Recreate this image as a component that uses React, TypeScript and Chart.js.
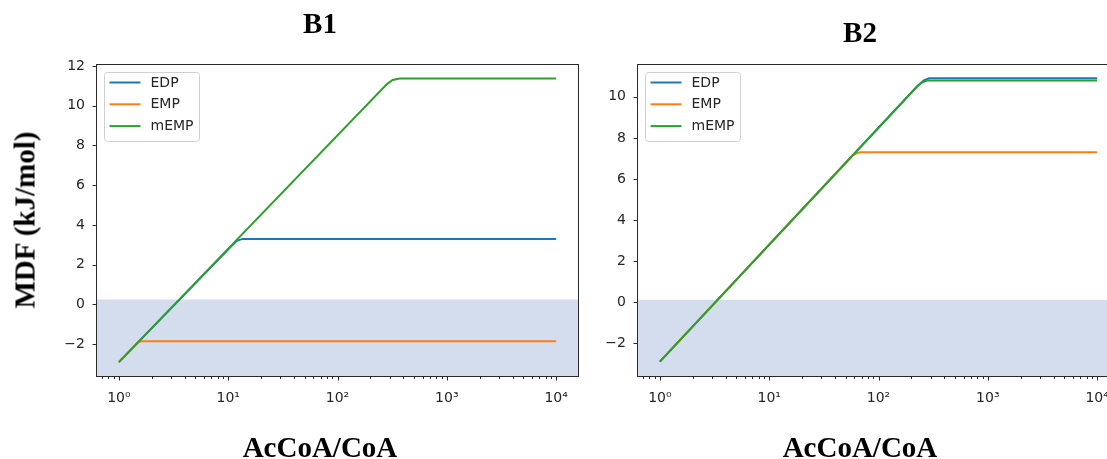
import React, { useEffect, useRef } from 'react';
import { Chart, registerables } from 'chart.js';

Chart.register(...registerables);

// ---------- shared axis data ----------
const xTickValues = [1, 10, 100, 1000, 10000];
const xTickLabels = ['10⁰', '10¹', '10²', '10³', '10⁴'];
const xMin = Math.pow(10, -0.2);
const xMax = Math.pow(10, 4.2);

const seriesNames = ['EDP', 'EMP', 'mEMP'];
const seriesColors = ['#1f77b4', '#ff7f0e', '#2ca02c'];

// ---------- panel B1 ----------
const b1EdpX = [1, 11, 12, 13.5, 10000];
const b1EdpY = [-2.9, 3.0, 3.2, 3.3, 3.3];
const b1EmpX = [1, 1.5, 1.6, 10000];
const b1EmpY = [-2.9, -1.9, -1.85, -1.85];
const b1MempX = [1, 285, 320, 370, 10000];
const b1MempY = [-2.9, 11.1, 11.3, 11.37, 11.37];
const b1YTicks = [-2, 0, 2, 4, 6, 8, 10, 12];
const b1YMin = -3.6;
const b1YMax = 12.05;
const b1ShadeTop = 0.25;

// ---------- panel B2 ----------
const b2EdpX = [1, 230, 260, 290, 10000];
const b2EdpY = [-2.9, 10.55, 10.8, 10.9, 10.9];
const b2EmpX = [1, 58, 63, 68, 10000];
const b2EmpY = [-2.9, 7.15, 7.25, 7.3, 7.3];
const b2MempX = [1, 225, 250, 280, 10000];
const b2MempY = [-2.9, 10.5, 10.7, 10.8, 10.8];
const b2YTicks = [-2, 0, 2, 4, 6, 8, 10];
const b2YMin = -3.6;
const b2YMax = 11.55;
const b2ShadeTop = 0.12;

const TICK_FONT = { family: '"DejaVu Sans", sans-serif', size: 14 };
const TICK_COLOR = '#262626';
const SPINE_COLOR = '#2a2a2a';

const fmtY = (v: number) => (v < 0 ? '\u2212' + Math.abs(v) : String(v));

const framePlugin = {
  id: 'frameTicks',
  afterDatasetsDraw(chart: any) {
    const { ctx, chartArea: a, scales } = chart;
    const L = Math.round(a.left);
    const T = Math.round(a.top);
    const R = Math.round(a.right);
    const B = Math.round(a.bottom);
    ctx.save();
    ctx.strokeStyle = SPINE_COLOR;
    ctx.lineWidth = 1;
    // axes frame
    ctx.strokeRect(L - 0.5, T - 0.5, R - L + 1, B - T + 1);
    // x major / minor ticks
    const xs = scales.x;
    ctx.beginPath();
    for (let k = -1; k <= 4; k++) {
      for (let m = 1; m <= 9; m++) {
        const v = m * Math.pow(10, k);
        if (v < xs.min || v > xs.max) continue;
        const px = Math.round(xs.getPixelForValue(v)) + 0.5;
        const len = m === 1 ? 4 : 2.5;
        ctx.moveTo(px, B + 0.5);
        ctx.lineTo(px, B + 0.5 + len);
      }
    }
    // y major ticks
    const ys = scales.y;
    ys.ticks.forEach((t: any) => {
      const py = Math.round(ys.getPixelForValue(t.value)) + 0.5;
      ctx.moveTo(L - 0.5, py);
      ctx.lineTo(L - 0.5 - 4, py);
    });
    ctx.stroke();

    // legend (upper left, inside axes)
    const x0 = L + 7.5;
    const y0 = T + 7.5;
    const w = 95;
    const h = 69;
    const r = 3;
    ctx.beginPath();
    ctx.moveTo(x0 + r, y0);
    ctx.lineTo(x0 + w - r, y0);
    ctx.arcTo(x0 + w, y0, x0 + w, y0 + r, r);
    ctx.lineTo(x0 + w, y0 + h - r);
    ctx.arcTo(x0 + w, y0 + h, x0 + w - r, y0 + h, r);
    ctx.lineTo(x0 + r, y0 + h);
    ctx.arcTo(x0, y0 + h, x0, y0 + h - r, r);
    ctx.lineTo(x0, y0 + r);
    ctx.arcTo(x0, y0, x0 + r, y0, r);
    ctx.closePath();
    ctx.fillStyle = 'rgba(255,255,255,0.85)';
    ctx.fill();
    ctx.strokeStyle = '#d0d0d0';
    ctx.stroke();

    const items = chart.data.datasets.filter((d: any) => !d.isShade);
    ctx.font = `${TICK_FONT.size}px ${TICK_FONT.family}`;
    ctx.textBaseline = 'middle';
    ctx.textAlign = 'left';
    items.forEach((d: any, i: number) => {
      const cy = y0 + 10 + i * 21.8;
      ctx.beginPath();
      ctx.strokeStyle = d.borderColor;
      ctx.lineWidth = 2;
      ctx.moveTo(x0 + 5, cy);
      ctx.lineTo(x0 + 36, cy);
      ctx.stroke();
      ctx.fillStyle = TICK_COLOR;
      ctx.fillText(d.label, x0 + 46, cy + 0.5);
    });
    ctx.restore();
  },
};

function makeConfig(
  xsArr: number[][],
  ysArr: number[][],
  yMin: number,
  yMax: number,
  yTicks: number[],
  shadeTop: number,
  yAxisWidth: number,
  padRight: number
): any {
  const lineSets = xsArr.map((xs, i) => ({
    label: seriesNames[i],
    data: xs.map((x, j) => ({ x, y: ysArr[i][j] })),
    borderColor: seriesColors[i],
    backgroundColor: seriesColors[i],
    borderWidth: 2,
    pointRadius: 0,
    fill: false,
    tension: 0,
    order: 3 - i,
  }));
  const shade = {
    label: 'shade',
    isShade: true,
    data: [
      { x: xMin, y: shadeTop },
      { x: xMax, y: shadeTop },
    ],
    fill: 'start',
    backgroundColor: '#d3ddee',
    borderColor: 'rgba(0,0,0,0)',
    borderWidth: 0,
    pointRadius: 0,
    order: 10,
  };
  return {
    type: 'line',
    data: { datasets: [shade, ...lineSets] },
    options: {
      animation: false,
      responsive: false,
      devicePixelRatio: 1,
      layout: { padding: { left: 0, top: 65, right: padRight, bottom: 0 } },
      plugins: {
        legend: { display: false },
        tooltip: { enabled: false },
        title: { display: false },
      },
      scales: {
        x: {
          type: 'logarithmic',
          bounds: 'data',
          min: xMin,
          max: xMax,
          grid: { display: false, drawTicks: false },
          border: { display: false },
          afterBuildTicks: (s: any) => {
            s.ticks = xTickValues.map((v) => ({ value: v }));
          },
          afterFit: (s: any) => {
            s.height = 83;
          },
          ticks: {
            autoSkip: false,
            maxRotation: 0,
            minRotation: 0,
            padding: 14,
            color: TICK_COLOR,
            font: TICK_FONT,
            callback: (v: any) => {
              const i = xTickValues.indexOf(Number(v));
              return i >= 0 ? xTickLabels[i] : '';
            },
          },
        },
        y: {
          type: 'linear',
          bounds: 'data',
          min: yMin,
          max: yMax,
          grid: { display: false, drawTicks: false },
          border: { display: false },
          afterBuildTicks: (s: any) => {
            s.ticks = yTicks.map((v) => ({ value: v }));
          },
          afterFit: (s: any) => {
            s.width = yAxisWidth;
          },
          ticks: {
            autoSkip: false,
            padding: 12,
            color: TICK_COLOR,
            font: TICK_FONT,
            callback: (v: any) => fmtY(Number(v)),
          },
        },
      },
    },
    plugins: [framePlugin],
  };
}

const bigText: React.CSSProperties = {
  position: 'absolute',
  fontFamily: '"Liberation Serif", "Times New Roman", serif',
  fontWeight: 'bold',
  fontSize: 29,
  lineHeight: '29px',
  whiteSpace: 'nowrap',
  color: '#000',
};

export default function App() {
  const c1 = useRef<HTMLCanvasElement>(null);
  const c2 = useRef<HTMLCanvasElement>(null);

  useEffect(() => {
    const ch1 = new Chart(
      c1.current as HTMLCanvasElement,
      makeConfig([b1EdpX, b1EmpX, b1MempX], [b1EdpY, b1EmpY, b1MempY], b1YMin, b1YMax, b1YTicks, b1ShadeTop, 97, 22)
    );
    const ch2 = new Chart(
      c2.current as HTMLCanvasElement,
      makeConfig([b2EdpX, b2EmpX, b2MempX], [b2EdpY, b2EmpY, b2MempY], b2YMin, b2YMax, b2YTicks, b2ShadeTop, 38, 21)
    );
    return () => {
      ch1.destroy();
      ch2.destroy();
    };
  }, []);

  return (
    <div
      style={{
        position: 'fixed',
        left: 0,
        top: 0,
        width: 1107,
        height: 459,
        overflow: 'hidden',
        background: '#fff',
      }}
    >
      <canvas ref={c1} width={600} height={459} style={{ position: 'absolute', left: 0, top: 0 }} />
      <canvas ref={c2} width={540} height={459} style={{ position: 'absolute', left: 600, top: 0 }} />
      <div style={{ ...bigText, left: 220, width: 200, textAlign: 'center', top: 9 }}>B1</div>
      <div style={{ ...bigText, left: 760, width: 200, textAlign: 'center', top: 18 }}>B2</div>
      <div style={{ ...bigText, left: 170, width: 300, textAlign: 'center', top: 433 }}>AcCoA/CoA</div>
      <div style={{ ...bigText, left: 710, width: 300, textAlign: 'center', top: 433 }}>AcCoA/CoA</div>
      <div style={{ ...bigText, left: 25, top: 220, transform: 'translate(-50%, -50%) rotate(-90deg)' }}>
        MDF (kJ/mol)
      </div>
    </div>
  );
}
